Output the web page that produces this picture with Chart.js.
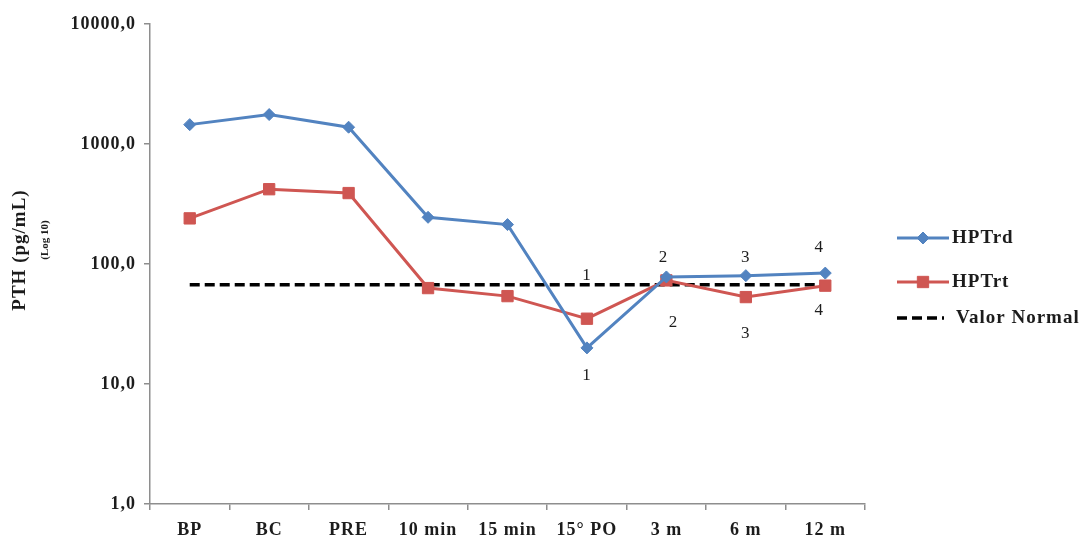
<!DOCTYPE html>
<html>
<head>
<meta charset="utf-8">
<script src="https://cdn.jsdelivr.net/npm/chart.js@4/dist/chart.umd.min.js"></script>
<style>
  html, body { margin: 0; padding: 0; background: #ffffff; }
  #wrap { width: 1087px; height: 541px; position: relative; }
</style>
</head>
<body>
<div id="wrap"><canvas id="c"></canvas></div>
<script>
// PTH follow-up, log scale
const categories = ['BP', 'BC', 'PRE', '10 min', '15 min', '15° PO', '3 m', '6 m', '12 m'];
const hptrd = [1450, 1760, 1380, 245, 213, 20, 78, 80, 84];
const hptrt = [240, 420, 390, 63, 54, 35, 73, 53, 66];
const valorNormal = [67, 67, 67, 67, 67, 67, 67, 67, 67];
const yTicks = [1, 10, 100, 1000, 10000];
const upperMarks = ['', '', '', '', '', '1', '2', '3', '4'];
const lowerMarks = ['', '', '', '', '', '1', '2', '3', '4'];

// offsets of the numeric marks from the points (pixels)
const upperShift = [[0,0],[0,0],[0,0],[0,0],[0,0],[0,-43],[-3,-19],[0,-18],[-6,-26]];
const lowerShift = [[0,0],[0,0],[0,0],[0,0],[0,0],[0,28],[7,42],[0,36],[-6,25]];

const BLUE = '#5283c0';
const RED = '#cf5652';
const AXIS = '#8e8e8e';
const TEXT = '#1c1c1c';
const SERIF = '"Liberation Serif", "Times New Roman", serif';

const spacing = {
  id: 'spacing',
  beforeUpdate(chart) { chart.ctx.letterSpacing = '1px'; },
  beforeDraw(chart) { chart.ctx.letterSpacing = '1px'; }
};

const marks = {
  id: 'marks',
  beforeDatasetsDraw(chart) {
    const ctx = chart.ctx;
    const m0 = chart.getDatasetMeta(0), m1 = chart.getDatasetMeta(1);
    ctx.save();
    ctx.font = '17px ' + SERIF;
    ctx.fillStyle = TEXT;
    ctx.textAlign = 'center';
    ctx.textBaseline = 'middle';
    categories.forEach((c, i) => {
      const p0 = m0.data[i], p1 = m1.data[i];
      const top = Math.min(p0.y, p1.y), bot = Math.max(p0.y, p1.y);
      if (upperMarks[i]) ctx.fillText(upperMarks[i], p0.x + upperShift[i][0], top + upperShift[i][1]);
      if (lowerMarks[i]) ctx.fillText(lowerMarks[i], p0.x + lowerShift[i][0], bot + lowerShift[i][1]);
    });
    ctx.restore();
  }
};

const yTitle = {
  id: 'yTitle',
  afterDraw(chart) {
    const ctx = chart.ctx;
    ctx.save();
    ctx.fillStyle = TEXT;
    ctx.textAlign = 'center';
    ctx.textBaseline = 'middle';
    ctx.translate(20, 250);
    ctx.rotate(-Math.PI / 2);
    ctx.font = 'bold 19px ' + SERIF;
    ctx.fillText('PTH (pg/mL)', 0, 0);
    ctx.font = 'bold 11px ' + SERIF;
    ctx.letterSpacing = '0px';
    ctx.fillText('(Log 10)', 10, 25);
    ctx.restore();
  }
};

const sideLegend = {
  id: 'sideLegend',
  afterDraw(chart) {
    const ctx = chart.ctx;
    const rows = [238, 282, 318];
    chart.data.datasets.forEach((ds, i) => {
      const y = rows[i];
      ctx.save();
      ctx.strokeStyle = ds.borderColor;
      ctx.lineWidth = ds.borderWidth;
      ctx.setLineDash(ds.borderDash || []);
      ctx.beginPath();
      ctx.moveTo(897, y);
      ctx.lineTo(ds.borderDash ? 944 : 949, y);
      ctx.stroke();
      ctx.restore();
      if (ds.pointRadius > 0) {
        ctx.save();
        ctx.fillStyle = ds.backgroundColor;
        ctx.strokeStyle = ds.borderColor;
        ctx.lineWidth = 1;
        Chart.helpers.drawPoint(ctx, {
          pointStyle: ds.pointStyle,
          radius: ds.pointRadius,
          borderWidth: 1,
          rotation: 0
        }, 923, y);
        ctx.restore();
      }
      ctx.save();
      ctx.fillStyle = TEXT;
      ctx.font = 'bold 19px ' + SERIF;
      ctx.textAlign = 'left';
      ctx.textBaseline = 'middle';
      ctx.fillText(ds.label, ds.borderDash ? 956 : 952, y);
      ctx.restore();
    });
  }
};

new Chart(document.getElementById('c'), {
  type: 'line',
  data: {
    labels: categories,
    datasets: [
      {
        label: 'HPTrd',
        data: hptrd,
        borderColor: BLUE,
        backgroundColor: BLUE,
        borderWidth: 3,
        pointStyle: 'rectRot',
        pointRadius: 6,
        pointBorderWidth: 1,
        tension: 0
      },
      {
        label: 'HPTrt',
        data: hptrt,
        borderColor: RED,
        backgroundColor: RED,
        borderWidth: 3,
        pointStyle: 'rect',
        pointRadius: 8,
        pointBorderWidth: 1,
        tension: 0
      },
      {
        label: 'Valor Normal',
        data: valorNormal,
        borderColor: '#000000',
        backgroundColor: '#000000',
        borderWidth: 3.5,
        borderDash: [10, 5],
        pointRadius: 0,
        tension: 0
      }
    ]
  },
  options: {
    responsive: true,
    maintainAspectRatio: false,
    animation: false,
    events: [],
    layout: { padding: { top: 24, right: 222, bottom: 0, left: 0 } },
    plugins: {
      legend: { display: false },
      tooltip: { enabled: false }
    },
    scales: {
      x: {
        offset: true,
        grid: { offset: true, drawOnChartArea: false, drawTicks: true, tickLength: 6, color: AXIS, lineWidth: 1.5 },
        border: { color: AXIS, width: 1.5 },
        ticks: { color: TEXT, font: { family: SERIF, size: 18, weight: 'bold' }, padding: 10, maxRotation: 0, autoSkip: false },
        afterFit(scale) { scale.height = 37; }
      },
      y: {
        type: 'logarithmic',
        min: 1,
        max: 10000,
        grid: { drawOnChartArea: false, drawTicks: true, tickLength: 6, color: AXIS, lineWidth: 1.5 },
        border: { color: AXIS, width: 1.5 },
        afterBuildTicks(scale) { scale.ticks = yTicks.map(v => ({ value: v })); },
        ticks: {
          color: TEXT,
          font: { family: SERIF, size: 18, weight: 'bold' },
          padding: 8,
          callback: (v) => v.toFixed(1).replace('.', ',')
        },
        afterFit(scale) { scale.width = 150; }
      }
    }
  },
  plugins: [spacing, marks, yTitle, sideLegend]
});
</script>
</body>
</html>
